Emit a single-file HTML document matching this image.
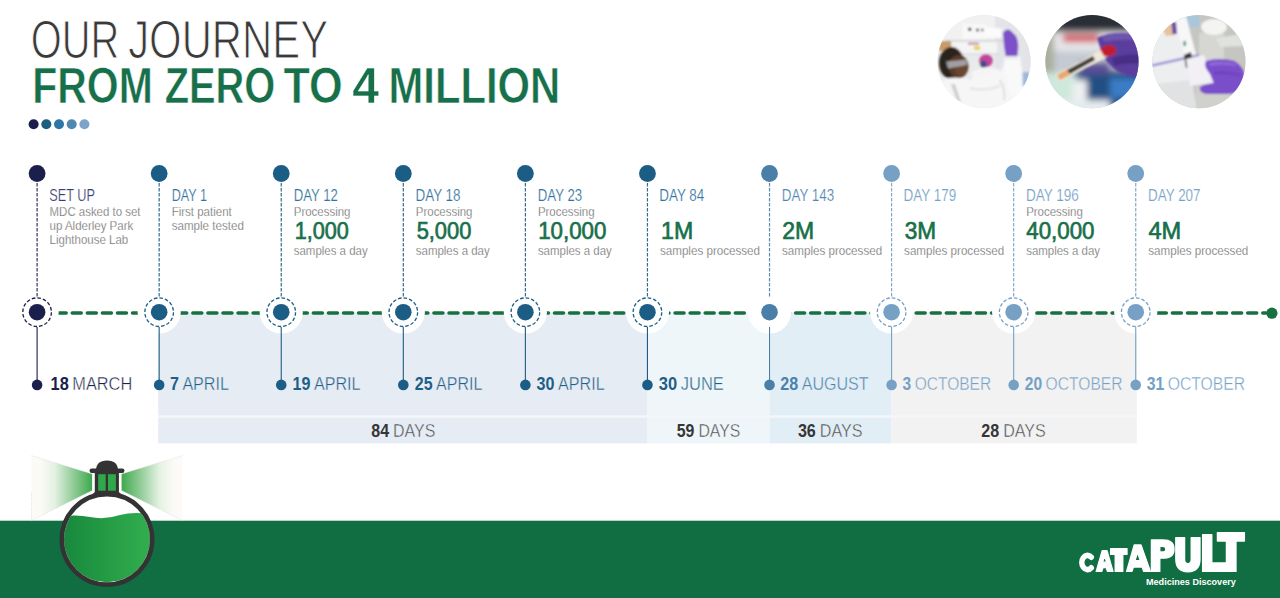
<!DOCTYPE html>
<html><head><meta charset="utf-8"><style>
html,body{margin:0;padding:0;background:#fff;width:1280px;height:598px;overflow:hidden}
svg{display:block;font-family:"Liberation Sans",sans-serif}
</style></head><body>
<svg width="1280" height="598" viewBox="0 0 1280 598">
<defs>
<linearGradient id="liq" x1="0" x2="1" y1="0" y2="0"><stop offset="0" stop-color="#17873c"/><stop offset="1" stop-color="#33b04f"/></linearGradient>
<linearGradient id="beamL" x1="1" x2="0" y1="0" y2="0"><stop offset="0" stop-color="#3ea84d"/><stop offset="0.3" stop-color="#8fcb95"/><stop offset="0.62" stop-color="#e4f1e3"/><stop offset="0.85" stop-color="#fbfaf6"/><stop offset="1" stop-color="#fdfbf8"/></linearGradient>
<linearGradient id="beamR" x1="0" x2="1" y1="0" y2="0"><stop offset="0" stop-color="#3ea84d"/><stop offset="0.3" stop-color="#8fcb95"/><stop offset="0.62" stop-color="#e4f1e3"/><stop offset="0.85" stop-color="#fbfaf6"/><stop offset="1" stop-color="#fdfbf8"/></linearGradient>
<clipPath id="flask"><circle cx="107" cy="539.3" r="43"/></clipPath>
<clipPath id="c1"><circle cx="984" cy="61.6" r="46.6"/></clipPath>
<clipPath id="c2"><circle cx="1092" cy="61.6" r="46.6"/></clipPath>
<clipPath id="c3"><circle cx="1199" cy="61.6" r="46.6"/></clipPath>
<filter id="bl1" x="-20%" y="-20%" width="140%" height="140%"><feGaussianBlur stdDeviation="1.2"/></filter>
<filter id="bl3" x="-20%" y="-20%" width="140%" height="140%"><feGaussianBlur stdDeviation="3"/></filter>
</defs>
<text x="30.70" y="57.90" font-size="53" font-weight="400" fill="#3a3a3a" textLength="88.61" lengthAdjust="spacingAndGlyphs" stroke="#fff" stroke-width="1.1">OUR</text>
<text x="128.20" y="57.90" font-size="53" font-weight="400" fill="#3a3a3a" textLength="199.86" lengthAdjust="spacingAndGlyphs" stroke="#fff" stroke-width="1.1">JOURNEY</text>
<text x="32.20" y="102.90" font-size="50.3" font-weight="700" fill="#17704a" textLength="120.59" lengthAdjust="spacingAndGlyphs" stroke="#fff" stroke-width="0.6">FROM</text>
<text x="164.70" y="102.90" font-size="50.3" font-weight="700" fill="#17704a" textLength="110.59" lengthAdjust="spacingAndGlyphs" stroke="#fff" stroke-width="0.6">ZERO</text>
<text x="283.45" y="102.90" font-size="50.3" font-weight="700" fill="#17704a" textLength="59.33" lengthAdjust="spacingAndGlyphs" stroke="#fff" stroke-width="0.6">TO</text>
<text x="352.20" y="102.90" font-size="50.3" font-weight="700" fill="#17704a" textLength="26.86" lengthAdjust="spacingAndGlyphs" stroke="#fff" stroke-width="0.6">4</text>
<text x="388.45" y="102.90" font-size="50.3" font-weight="700" fill="#17704a" textLength="171.87" lengthAdjust="spacingAndGlyphs" stroke="#fff" stroke-width="0.6">MILLION</text>
<circle cx="33.6" cy="124.2" r="5" fill="#1b1f4b"/>
<circle cx="46.3" cy="124.2" r="5" fill="#1b5e80"/>
<circle cx="59.0" cy="124.2" r="5" fill="#2a77a8"/>
<circle cx="71.7" cy="124.2" r="5" fill="#4f87b3"/>
<circle cx="84.4" cy="124.2" r="5" fill="#7ba4c8"/>
<rect x="158.2" y="312.5" width="489.3" height="130.9" fill="#e6ecf4"/>
<rect x="647.5" y="312.5" width="122" height="130.9" fill="#eef6f9"/>
<rect x="769.5" y="312.5" width="122" height="130.9" fill="#e2eef5"/>
<rect x="891.5" y="312.5" width="245.3" height="130.9" fill="#f2f2f2"/>
<rect x="158.2" y="415.3" width="978.6" height="2.4" fill="#f4f7f9"/>
<line x1="37" y1="313.1" x2="1266" y2="313.1" stroke="#17703f" stroke-width="3.5" stroke-dasharray="9 6.07" stroke-dashoffset="9.96" stroke-linecap="round"/>
<circle cx="1271.9" cy="313.2" r="5.6" fill="#17703f"/>
<circle cx="37.1" cy="312" r="21.6" fill="#fff"/>
<circle cx="159.17" cy="312" r="21.6" fill="#fff"/>
<circle cx="281.24" cy="312" r="21.6" fill="#fff"/>
<circle cx="403.31" cy="312" r="21.6" fill="#fff"/>
<circle cx="525.38" cy="312" r="21.6" fill="#fff"/>
<circle cx="647.45" cy="312" r="21.6" fill="#fff"/>
<circle cx="769.52" cy="312" r="21.6" fill="#fff"/>
<circle cx="891.59" cy="312" r="21.6" fill="#fff"/>
<circle cx="1013.66" cy="312" r="21.6" fill="#fff"/>
<circle cx="1135.73" cy="312" r="21.6" fill="#fff"/>
<circle cx="37.1" cy="173.5" r="8.4" fill="#1b1f4b"/>
<line x1="37.1" y1="183" x2="37.1" y2="296.5" stroke="#1b1f4b" stroke-width="1.2" stroke-dasharray="3.4 1.6" opacity="0.9"/>
<line x1="37.1" y1="327" x2="37.1" y2="384" stroke="#1b1f4b" stroke-width="1.1"/>
<circle cx="37.1" cy="384.9" r="5.3" fill="#1b1f4b"/>
<circle cx="37.1" cy="312" r="14.3" fill="none" stroke="#1b1f4b" stroke-width="1.3" stroke-dasharray="3.6 2" transform="translate(0 0.2)"/>
<circle cx="37.1" cy="312.2" r="8.3" fill="#1b1f4b"/>
<circle cx="159.17" cy="173.5" r="8.4" fill="#1c5d85"/>
<line x1="159.17" y1="183" x2="159.17" y2="296.5" stroke="#1c5d85" stroke-width="1.2" stroke-dasharray="3.4 1.6" opacity="0.9"/>
<line x1="159.17" y1="327" x2="159.17" y2="384" stroke="#1c5d85" stroke-width="1.1"/>
<circle cx="159.17" cy="384.9" r="5.3" fill="#1c5d85"/>
<circle cx="159.17" cy="312" r="14.3" fill="none" stroke="#1c5d85" stroke-width="1.3" stroke-dasharray="3.6 2" transform="translate(0 0.2)"/>
<circle cx="159.17" cy="312.2" r="8.3" fill="#1c5d85"/>
<circle cx="281.24" cy="173.5" r="8.4" fill="#1c5d85"/>
<line x1="281.24" y1="183" x2="281.24" y2="296.5" stroke="#1c5d85" stroke-width="1.2" stroke-dasharray="3.4 1.6" opacity="0.9"/>
<line x1="281.24" y1="327" x2="281.24" y2="384" stroke="#1c5d85" stroke-width="1.1"/>
<circle cx="281.24" cy="384.9" r="5.3" fill="#1c5d85"/>
<circle cx="281.24" cy="312" r="14.3" fill="none" stroke="#1c5d85" stroke-width="1.3" stroke-dasharray="3.6 2" transform="translate(0 0.2)"/>
<circle cx="281.24" cy="312.2" r="8.3" fill="#1c5d85"/>
<circle cx="403.31" cy="173.5" r="8.4" fill="#1c5d85"/>
<line x1="403.31" y1="183" x2="403.31" y2="296.5" stroke="#1c5d85" stroke-width="1.2" stroke-dasharray="3.4 1.6" opacity="0.9"/>
<line x1="403.31" y1="327" x2="403.31" y2="384" stroke="#1c5d85" stroke-width="1.1"/>
<circle cx="403.31" cy="384.9" r="5.3" fill="#1c5d85"/>
<circle cx="403.31" cy="312" r="14.3" fill="none" stroke="#1c5d85" stroke-width="1.3" stroke-dasharray="3.6 2" transform="translate(0 0.2)"/>
<circle cx="403.31" cy="312.2" r="8.3" fill="#1c5d85"/>
<circle cx="525.38" cy="173.5" r="8.4" fill="#1c5d85"/>
<line x1="525.38" y1="183" x2="525.38" y2="296.5" stroke="#1c5d85" stroke-width="1.2" stroke-dasharray="3.4 1.6" opacity="0.9"/>
<line x1="525.38" y1="327" x2="525.38" y2="384" stroke="#1c5d85" stroke-width="1.1"/>
<circle cx="525.38" cy="384.9" r="5.3" fill="#1c5d85"/>
<circle cx="525.38" cy="312" r="14.3" fill="none" stroke="#1c5d85" stroke-width="1.3" stroke-dasharray="3.6 2" transform="translate(0 0.2)"/>
<circle cx="525.38" cy="312.2" r="8.3" fill="#1c5d85"/>
<circle cx="647.45" cy="173.5" r="8.4" fill="#1c5d85"/>
<line x1="647.45" y1="183" x2="647.45" y2="296.5" stroke="#1c5d85" stroke-width="1.2" stroke-dasharray="3.4 1.6" opacity="0.9"/>
<line x1="647.45" y1="327" x2="647.45" y2="384" stroke="#1c5d85" stroke-width="1.1"/>
<circle cx="647.45" cy="384.9" r="5.3" fill="#1c5d85"/>
<circle cx="647.45" cy="312" r="14.3" fill="none" stroke="#1c5d85" stroke-width="1.3" stroke-dasharray="3.6 2" transform="translate(0 0.2)"/>
<circle cx="647.45" cy="312.2" r="8.3" fill="#1c5d85"/>
<circle cx="769.52" cy="173.5" r="8.4" fill="#4a7fa8"/>
<line x1="769.52" y1="183" x2="769.52" y2="296.5" stroke="#4a7fa8" stroke-width="1.2" stroke-dasharray="3.4 1.6" opacity="0.9"/>
<line x1="769.52" y1="327" x2="769.52" y2="384" stroke="#4a7fa8" stroke-width="1.1"/>
<circle cx="769.52" cy="384.9" r="5.3" fill="#4a7fa8"/>
<circle cx="769.52" cy="312.2" r="8.3" fill="#4a7fa8"/>
<circle cx="891.59" cy="173.5" r="8.4" fill="#76a0c4"/>
<line x1="891.59" y1="183" x2="891.59" y2="296.5" stroke="#76a0c4" stroke-width="1.2" stroke-dasharray="3.4 1.6" opacity="0.9"/>
<line x1="891.59" y1="327" x2="891.59" y2="384" stroke="#76a0c4" stroke-width="1.1"/>
<circle cx="891.59" cy="384.9" r="5.3" fill="#76a0c4"/>
<circle cx="891.59" cy="312" r="14.3" fill="none" stroke="#76a0c4" stroke-width="1.3" stroke-dasharray="3.6 2" transform="translate(0 0.2)"/>
<circle cx="891.59" cy="312.2" r="8.3" fill="#76a0c4"/>
<circle cx="1013.66" cy="173.5" r="8.4" fill="#76a0c4"/>
<line x1="1013.66" y1="183" x2="1013.66" y2="296.5" stroke="#76a0c4" stroke-width="1.2" stroke-dasharray="3.4 1.6" opacity="0.9"/>
<line x1="1013.66" y1="327" x2="1013.66" y2="384" stroke="#76a0c4" stroke-width="1.1"/>
<circle cx="1013.66" cy="384.9" r="5.3" fill="#76a0c4"/>
<circle cx="1013.66" cy="312" r="14.3" fill="none" stroke="#76a0c4" stroke-width="1.3" stroke-dasharray="3.6 2" transform="translate(0 0.2)"/>
<circle cx="1013.66" cy="312.2" r="8.3" fill="#76a0c4"/>
<circle cx="1135.73" cy="173.5" r="8.4" fill="#76a0c4"/>
<line x1="1135.73" y1="183" x2="1135.73" y2="296.5" stroke="#76a0c4" stroke-width="1.2" stroke-dasharray="3.4 1.6" opacity="0.9"/>
<line x1="1135.73" y1="327" x2="1135.73" y2="384" stroke="#76a0c4" stroke-width="1.1"/>
<circle cx="1135.73" cy="384.9" r="5.3" fill="#76a0c4"/>
<circle cx="1135.73" cy="312" r="14.3" fill="none" stroke="#76a0c4" stroke-width="1.3" stroke-dasharray="3.6 2" transform="translate(0 0.2)"/>
<circle cx="1135.73" cy="312.2" r="8.3" fill="#76a0c4"/>
<text x="49.30" y="200.80" font-size="16.2" font-weight="400" fill="#3a406f" textLength="45.70" lengthAdjust="spacingAndGlyphs" stroke="#fff" stroke-width="0.2">SET UP</text>
<text x="171.70" y="200.80" font-size="16.2" font-weight="400" fill="#3373a0" textLength="35.20" lengthAdjust="spacingAndGlyphs" stroke="#fff" stroke-width="0.2">DAY 1</text>
<text x="293.70" y="200.80" font-size="16.2" font-weight="400" fill="#3373a0" textLength="44.10" lengthAdjust="spacingAndGlyphs" stroke="#fff" stroke-width="0.2">DAY 12</text>
<text x="415.50" y="200.80" font-size="16.2" font-weight="400" fill="#3373a0" textLength="45.00" lengthAdjust="spacingAndGlyphs" stroke="#fff" stroke-width="0.2">DAY 18</text>
<text x="537.80" y="200.80" font-size="16.2" font-weight="400" fill="#3373a0" textLength="44.40" lengthAdjust="spacingAndGlyphs" stroke="#fff" stroke-width="0.2">DAY 23</text>
<text x="659.30" y="200.80" font-size="16.2" font-weight="400" fill="#3373a0" textLength="45.00" lengthAdjust="spacingAndGlyphs" stroke="#fff" stroke-width="0.2">DAY 84</text>
<text x="781.80" y="200.80" font-size="16.2" font-weight="400" fill="#4f85b0" textLength="52.30" lengthAdjust="spacingAndGlyphs" stroke="#fff" stroke-width="0.2">DAY 143</text>
<text x="903.60" y="200.80" font-size="16.2" font-weight="400" fill="#76a1c7" textLength="52.60" lengthAdjust="spacingAndGlyphs" stroke="#fff" stroke-width="0.2">DAY 179</text>
<text x="1025.90" y="200.80" font-size="16.2" font-weight="400" fill="#76a1c7" textLength="52.90" lengthAdjust="spacingAndGlyphs" stroke="#fff" stroke-width="0.2">DAY 196</text>
<text x="1148.10" y="200.80" font-size="16.2" font-weight="400" fill="#76a1c7" textLength="52.40" lengthAdjust="spacingAndGlyphs" stroke="#fff" stroke-width="0.2">DAY 207</text>
<text x="49.60" y="215.60" font-size="12.2" font-weight="400" fill="#666666" textLength="90.90" lengthAdjust="spacingAndGlyphs" stroke="#fff" stroke-width="0.25">MDC asked to set</text>
<text x="49.60" y="229.80" font-size="12.2" font-weight="400" fill="#666666" textLength="83.65" lengthAdjust="spacingAndGlyphs" stroke="#fff" stroke-width="0.25">up Alderley Park</text>
<text x="49.60" y="243.80" font-size="12.2" font-weight="400" fill="#666666" textLength="78.58" lengthAdjust="spacingAndGlyphs" stroke="#fff" stroke-width="0.25">Lighthouse Lab</text>
<text x="171.67" y="215.60" font-size="12.2" font-weight="400" fill="#666666" textLength="60.07" lengthAdjust="spacingAndGlyphs" stroke="#fff" stroke-width="0.25">First patient</text>
<text x="171.67" y="229.80" font-size="12.2" font-weight="400" fill="#666666" textLength="72.20" lengthAdjust="spacingAndGlyphs" stroke="#fff" stroke-width="0.25">sample tested</text>
<text x="293.74" y="215.60" font-size="12.2" font-weight="400" fill="#666666" textLength="56.70" lengthAdjust="spacingAndGlyphs" stroke="#fff" stroke-width="0.25">Processing</text>
<text x="293.74" y="254.50" font-size="12.2" font-weight="400" fill="#666666" textLength="73.90" lengthAdjust="spacingAndGlyphs" stroke="#fff" stroke-width="0.25">samples a day</text>
<text x="294.75" y="239.30" font-size="24.6" font-weight="400" fill="#17704a" textLength="54.11" lengthAdjust="spacingAndGlyphs" stroke="#17704a" stroke-width="0.7">1,000</text>
<text x="415.81" y="215.60" font-size="12.2" font-weight="400" fill="#666666" textLength="56.70" lengthAdjust="spacingAndGlyphs" stroke="#fff" stroke-width="0.25">Processing</text>
<text x="415.81" y="254.50" font-size="12.2" font-weight="400" fill="#666666" textLength="73.90" lengthAdjust="spacingAndGlyphs" stroke="#fff" stroke-width="0.25">samples a day</text>
<text x="416.65" y="239.30" font-size="24.6" font-weight="400" fill="#17704a" textLength="54.71" lengthAdjust="spacingAndGlyphs" stroke="#17704a" stroke-width="0.7">5,000</text>
<text x="537.88" y="215.60" font-size="12.2" font-weight="400" fill="#666666" textLength="56.70" lengthAdjust="spacingAndGlyphs" stroke="#fff" stroke-width="0.25">Processing</text>
<text x="537.88" y="254.50" font-size="12.2" font-weight="400" fill="#666666" textLength="73.90" lengthAdjust="spacingAndGlyphs" stroke="#fff" stroke-width="0.25">samples a day</text>
<text x="538.15" y="239.30" font-size="24.6" font-weight="400" fill="#17704a" textLength="68.19" lengthAdjust="spacingAndGlyphs" stroke="#17704a" stroke-width="0.7">10,000</text>
<text x="1026.16" y="215.60" font-size="12.2" font-weight="400" fill="#666666" textLength="56.70" lengthAdjust="spacingAndGlyphs" stroke="#fff" stroke-width="0.25">Processing</text>
<text x="1026.16" y="254.50" font-size="12.2" font-weight="400" fill="#666666" textLength="73.90" lengthAdjust="spacingAndGlyphs" stroke="#fff" stroke-width="0.25">samples a day</text>
<text x="1026.25" y="239.30" font-size="24.6" font-weight="400" fill="#17704a" textLength="68.19" lengthAdjust="spacingAndGlyphs" stroke="#17704a" stroke-width="0.7">40,000</text>
<text x="659.95" y="254.50" font-size="12.2" font-weight="400" fill="#666666" textLength="100.10" lengthAdjust="spacingAndGlyphs" stroke="#fff" stroke-width="0.25">samples processed</text>
<text x="661.05" y="239.30" font-size="24.6" font-weight="400" fill="#17704a" textLength="32.10" lengthAdjust="spacingAndGlyphs" stroke="#17704a" stroke-width="0.7">1M</text>
<text x="782.02" y="254.50" font-size="12.2" font-weight="400" fill="#666666" textLength="100.10" lengthAdjust="spacingAndGlyphs" stroke="#fff" stroke-width="0.25">samples processed</text>
<text x="782.15" y="239.30" font-size="24.6" font-weight="400" fill="#17704a" textLength="31.90" lengthAdjust="spacingAndGlyphs" stroke="#17704a" stroke-width="0.7">2M</text>
<text x="904.09" y="254.50" font-size="12.2" font-weight="400" fill="#666666" textLength="100.10" lengthAdjust="spacingAndGlyphs" stroke="#fff" stroke-width="0.25">samples processed</text>
<text x="904.75" y="239.30" font-size="24.6" font-weight="400" fill="#17704a" textLength="31.40" lengthAdjust="spacingAndGlyphs" stroke="#17704a" stroke-width="0.7">3M</text>
<text x="1148.23" y="254.50" font-size="12.2" font-weight="400" fill="#666666" textLength="100.10" lengthAdjust="spacingAndGlyphs" stroke="#fff" stroke-width="0.25">samples processed</text>
<text x="1148.45" y="239.30" font-size="24.6" font-weight="400" fill="#17704a" textLength="32.80" lengthAdjust="spacingAndGlyphs" stroke="#17704a" stroke-width="0.7">4M</text>
<text x="50.60" y="390.30" font-size="18.6" font-weight="700" fill="#1b1f4b" textLength="18.16" lengthAdjust="spacingAndGlyphs" >18</text>
<text x="72.35" y="390.30" font-size="18.6" font-weight="400" fill="#1b1f4b" textLength="59.85" lengthAdjust="spacingAndGlyphs"  stroke="#ffffff" stroke-width="0.4">MARCH</text>
<text x="169.90" y="390.30" font-size="18.6" font-weight="700" fill="#1f5f87" textLength="8.95" lengthAdjust="spacingAndGlyphs" >7</text>
<text x="182.39" y="390.30" font-size="18.6" font-weight="400" fill="#1f5f87" textLength="46.51" lengthAdjust="spacingAndGlyphs"  stroke="#e6ecf4" stroke-width="0.4">APRIL</text>
<text x="292.50" y="390.30" font-size="18.6" font-weight="700" fill="#1f5f87" textLength="17.91" lengthAdjust="spacingAndGlyphs" >19</text>
<text x="313.96" y="390.30" font-size="18.6" font-weight="400" fill="#1f5f87" textLength="46.55" lengthAdjust="spacingAndGlyphs"  stroke="#e6ecf4" stroke-width="0.4">APRIL</text>
<text x="414.80" y="390.30" font-size="18.6" font-weight="700" fill="#1f5f87" textLength="17.78" lengthAdjust="spacingAndGlyphs" >25</text>
<text x="436.10" y="390.30" font-size="18.6" font-weight="400" fill="#1f5f87" textLength="46.20" lengthAdjust="spacingAndGlyphs"  stroke="#e6ecf4" stroke-width="0.4">APRIL</text>
<text x="536.60" y="390.30" font-size="18.6" font-weight="700" fill="#1f5f87" textLength="17.91" lengthAdjust="spacingAndGlyphs" >30</text>
<text x="558.06" y="390.30" font-size="18.6" font-weight="400" fill="#1f5f87" textLength="46.55" lengthAdjust="spacingAndGlyphs"  stroke="#e6ecf4" stroke-width="0.4">APRIL</text>
<text x="658.80" y="390.30" font-size="18.6" font-weight="700" fill="#1f5f87" textLength="18.33" lengthAdjust="spacingAndGlyphs" >30</text>
<text x="680.76" y="390.30" font-size="18.6" font-weight="400" fill="#1f5f87" textLength="43.04" lengthAdjust="spacingAndGlyphs"  stroke="#eef6f9" stroke-width="0.4">JUNE</text>
<text x="780.30" y="390.30" font-size="18.6" font-weight="700" fill="#4a82ad" textLength="17.86" lengthAdjust="spacingAndGlyphs" >28</text>
<text x="801.69" y="390.30" font-size="18.6" font-weight="400" fill="#4a82ad" textLength="66.91" lengthAdjust="spacingAndGlyphs"  stroke="#e2eef5" stroke-width="0.4">AUGUST</text>
<text x="902.60" y="390.30" font-size="18.6" font-weight="700" fill="#73a0c6" textLength="8.64" lengthAdjust="spacingAndGlyphs" >3</text>
<text x="914.66" y="390.30" font-size="18.6" font-weight="400" fill="#73a0c6" textLength="76.54" lengthAdjust="spacingAndGlyphs"  stroke="#f2f2f2" stroke-width="0.4">OCTOBER</text>
<text x="1024.80" y="390.30" font-size="18.6" font-weight="700" fill="#73a0c6" textLength="17.36" lengthAdjust="spacingAndGlyphs" >20</text>
<text x="1045.60" y="390.30" font-size="18.6" font-weight="400" fill="#73a0c6" textLength="76.90" lengthAdjust="spacingAndGlyphs"  stroke="#f2f2f2" stroke-width="0.4">OCTOBER</text>
<text x="1146.70" y="390.30" font-size="18.6" font-weight="700" fill="#73a0c6" textLength="17.50" lengthAdjust="spacingAndGlyphs" >31</text>
<text x="1167.67" y="390.30" font-size="18.6" font-weight="400" fill="#73a0c6" textLength="77.53" lengthAdjust="spacingAndGlyphs"  stroke="#ffffff" stroke-width="0.4">OCTOBER</text>
<text x="371.30" y="437.30" font-size="18.6" font-weight="700" fill="#363636" textLength="17.77" lengthAdjust="spacingAndGlyphs" >84</text>
<text x="393.07" y="437.30" font-size="18.6" font-weight="400" fill="#4a4a4a" textLength="42.33" lengthAdjust="spacingAndGlyphs"  stroke="#e6ecf4" stroke-width="0.45">DAYS</text>
<text x="676.80" y="437.30" font-size="18.6" font-weight="700" fill="#363636" textLength="17.64" lengthAdjust="spacingAndGlyphs" >59</text>
<text x="698.40" y="437.30" font-size="18.6" font-weight="400" fill="#4a4a4a" textLength="42.00" lengthAdjust="spacingAndGlyphs"  stroke="#eef6f9" stroke-width="0.45">DAYS</text>
<text x="797.90" y="437.30" font-size="18.6" font-weight="700" fill="#363636" textLength="17.94" lengthAdjust="spacingAndGlyphs" >36</text>
<text x="819.87" y="437.30" font-size="18.6" font-weight="400" fill="#4a4a4a" textLength="42.73" lengthAdjust="spacingAndGlyphs"  stroke="#e2eef5" stroke-width="0.45">DAYS</text>
<text x="981.30" y="437.30" font-size="18.6" font-weight="700" fill="#363636" textLength="17.89" lengthAdjust="spacingAndGlyphs" >28</text>
<text x="1003.21" y="437.30" font-size="18.6" font-weight="400" fill="#4a4a4a" textLength="42.59" lengthAdjust="spacingAndGlyphs"  stroke="#f2f2f2" stroke-width="0.45">DAYS</text>
<rect x="0" y="520.7" width="1280" height="78" fill="#116e43"/>
<g>
<path d="M92.1,474 L31.5,455.6 L31.5,520.5 L92.1,490.6 Z" fill="url(#beamL)"/>
<path d="M31.5,455.6 L92.1,474 M31.5,520.5 L92.1,490.6 M31.5,492 V520.5" stroke="#dcdcdc" stroke-width="0.6" fill="none" stroke-dasharray="1.5 1"/>
<path d="M121.6,474 L182.5,455.6 L182.5,520.5 L121.6,490.6 Z" fill="url(#beamR)"/>
<path d="M182.5,455.6 L121.6,474 M182.5,520.5 L121.6,490.6" stroke="#dcdcdc" stroke-width="0.6" fill="none" stroke-dasharray="1.5 1"/>
<circle cx="107" cy="539.3" r="45.2" fill="#fff"/>
<path d="M60,517 Q75,514 90,517 Q105,520 120,515 Q135,511 155,515 L155,600 L60,600 Z" fill="url(#liq)" clip-path="url(#flask)"/>
<circle cx="107" cy="539.3" r="45.2" fill="none" stroke="#333" stroke-width="4.6"/>
<path d="M94.8,470 H118.9 V492 L123,496 L91,496 L94.8,492 Z" fill="#333"/>
<rect x="98.2" y="474.2" width="7.5" height="16.5" fill="#2fa84b"/>
<rect x="108" y="474.2" width="7.9" height="16.5" fill="#2fa84b"/>
<path d="M96,470.5 Q96,460.5 107,460.5 Q118,460.5 118,470.5 Z" fill="#333"/>
<rect x="89.5" y="468.5" width="35" height="4.6" rx="2.3" fill="#333"/>
</g>
<g fill="#fff" stroke="#fff" stroke-width="1.3" stroke-linejoin="round">
<path d="M1091.2,557.2 A5.6,7.1 0 1 0 1091.2,567.8" fill="none" stroke-width="5.6" stroke-linecap="round"/>
<path fill-rule="evenodd" d="M1096.2,571.4 L1102.2,550.6 L1107,550.6 L1113,571.4 L1107.4,571.4 L1106.2,567.6 L1103,567.6 L1101.8,571.4 Z M1104.6,555.8 L1106.6,562.2 L1102.6,562.2 Z"/>
<rect x="1110.6" y="548.6" width="16.4" height="5.8"/>
<rect x="1115.2" y="548.6" width="7.6" height="22.8"/>
<path fill-rule="evenodd" d="M1126.6,571.4 L1134.2,545 L1141,545 L1150.4,571.4 L1143.6,571.4 L1142.2,567 L1133.4,567 L1132,571.4 Z M1137.6,552.4 L1140.2,560.6 L1135,560.6 Z"/>
<path fill-rule="evenodd" d="M1151.4,540 H1163 Q1174,540 1174,549.2 Q1174,558.2 1163,558.2 H1159.8 V571.4 H1151.4 Z M1159.8,546.4 H1162.4 Q1165.8,546.4 1165.8,549.2 Q1165.8,552 1162.4,552 H1159.8 Z"/>
<path d="M1175.8,537.6 H1184.6 V559.6 Q1184.6,563.6 1187.9,563.6 Q1191.2,563.6 1191.2,559.6 V537.6 H1200 V559 Q1200,571.8 1187.9,571.8 Q1175.8,571.8 1175.8,559 Z"/>
<path d="M1202.6,534.6 H1211.8 V563 H1226 V571.4 H1202.6 Z"/>
<rect x="1217.4" y="532.6" width="27" height="8.4"/>
<rect x="1226.4" y="532.6" width="9.6" height="38.8"/>
</g>
<text x="1146" y="584.8" font-size="9" font-weight="700" fill="#fff" textLength="89.8" lengthAdjust="spacingAndGlyphs">Medicines Discovery</text>
<g clip-path="url(#c1)">
<rect x="930" y="10" width="110" height="105" fill="#e9eaec"/>
<g filter="url(#bl1)">
<rect x="935" y="10" width="100" height="31" fill="#f1f1f2"/>
<rect x="995" y="10" width="40" height="70" fill="#e3e4e8"/>
<rect x="962" y="24" width="24" height="15" fill="#f8f8f8"/>
<circle cx="969.7" cy="29.3" r="1.7" fill="#2a2a2a"/><circle cx="977.5" cy="30" r="1.5" fill="#333"/><circle cx="982.3" cy="30" r="1.3" fill="#444"/>
<path d="M984,27 L1002,28.5 L1001,38 L984,37 Z" fill="#fbfbfb"/>
<rect x="945" y="40" width="60" height="1.6" fill="#d2d4d6"/>
<rect x="939" y="41" width="12" height="10" fill="#c79c68"/>
<rect x="952" y="42" width="45" height="12" fill="#f4f4f5"/>
<rect x="968" y="42.8" width="11" height="1.8" fill="#c8798e"/>
<rect x="974" y="46" width="6" height="4" fill="#e6d24a"/>
<rect x="950" y="53.5" width="50" height="1.5" fill="#d9dadd"/>
<ellipse cx="986" cy="60.5" rx="6.8" ry="6.5" fill="#c2449c"/>
<ellipse cx="983.5" cy="64" rx="3.2" ry="3.5" fill="#3e4d86"/>
<path d="M972,72 Q988,64 1004,72 L1006,100 L972,100 Z" fill="#f5f5f6"/>
<ellipse cx="951.5" cy="63" rx="12.5" ry="16" fill="#2b221f"/>
<ellipse cx="958.5" cy="66.5" rx="10" ry="11.5" fill="#5a3a2a"/>
<ellipse cx="961" cy="70" rx="6" ry="6" fill="#6b4632"/>
<path d="M946,61.5 L966.5,59.5 L967,65 L948,68.5 Z" fill="#b9c2ca" opacity="0.75"/>
<path d="M938,84 Q946,76 960,78 L972,80 L1000,74 L1006,58 L1020,56 L1024,80 L1030,115 L935,115 Z" fill="#f6f6f7"/>
<path d="M1004,58 L1019,57 L1024,92 L1010,96 Z" fill="#f9f9fa"/>
<path d="M1000,80 Q1006,90 1004,100" stroke="#d9dadd" stroke-width="1.6" fill="none"/>
<path d="M951,84 L958,104 L961,103 L955,84 Z" fill="#cdcdd0"/>
<path d="M970,88 Q985,92 1000,86" stroke="#dcdde0" stroke-width="1.5" fill="none"/>
<path d="M1003,33 Q1006,28 1010,30 L1016,36 Q1019,42 1018,50 L1017,58 L1006,58 L1004,46 Z" fill="#7d50c8"/>
<rect x="1005" y="56" width="13" height="3" fill="#e8e8ea"/>
<rect x="1022.5" y="72" width="7" height="14" fill="#a0b8dc"/>
</g>
</g>
<g clip-path="url(#c2)">
<rect x="1040" y="10" width="110" height="105" fill="#c3c8d0"/>
<g filter="url(#bl3)">
<rect x="1040" y="6" width="110" height="26" fill="#2a2e35"/>
<rect x="1040" y="32" width="110" height="19" fill="#e6e7ea"/>
<rect x="1063" y="34.5" width="36" height="7.5" fill="#d2434a"/>
<rect x="1040" y="51" width="110" height="22" fill="#c5cad3"/>
<rect x="1040" y="30" width="14" height="45" fill="#a9ae9e"/>
<rect x="1070" y="70" width="80" height="45" fill="#234f82"/>
<rect x="1110" y="78" width="35" height="20" fill="#3a7cc4"/>
<rect x="1080" y="62" width="30" height="12" fill="#5a4f96"/>
<rect x="1040" y="73" width="36" height="42" fill="#cfe8dc"/>
<rect x="1073" y="80" width="14" height="22" fill="#eef0f2"/>
<rect x="1060" y="100" width="50" height="15" fill="#e5ecef"/>
</g>
<g filter="url(#bl1)">
<path d="M1097,38 Q1108,32 1128,33 Q1142,36 1145,45 L1145,78 Q1130,78 1118,72 Q1104,62 1101,50 Z" fill="#5a3d9c"/>
<path d="M1102,36 Q1118,31 1136,35 L1136,40 Q1118,39 1104,42 Z" fill="#6e54ae"/>
<path d="M1112,58 Q1128,52 1146,56 L1146,64 Q1130,62 1114,66 Z" fill="#4a2f86"/>
<path d="M1055,75 L1104,48 L1109,56 L1061,81 Z" fill="#f0e9d8"/>
<path d="M1057,75 L1067,69.5 L1070,75 L1060,80 Z" fill="#e9a86a"/>
<path d="M1067,70 L1093,56 L1095,60 L1070,74 Z" fill="#3a3a3a"/>
<path d="M1100,49.5 Q1106,43 1114,46 L1117,52 Q1110,58 1104,56 Z" fill="#c21f30"/>
</g>
</g>
<g clip-path="url(#c3)">
<rect x="1145" y="10" width="110" height="105" fill="#c5c6c2"/>
<g filter="url(#bl1)">
<rect x="1199" y="33" width="25" height="35" fill="#d6d7d3"/>
<ellipse cx="1214" cy="27" rx="13" ry="8" fill="#f4f4f2"/>
<rect x="1180" y="15" width="19" height="12" fill="#a9c6da"/>
<path d="M1216,38 L1242,34 L1244,46 L1220,47 Z" fill="#dfe2de"/>
<path d="M1145,10 L1178,10 L1190,60 L1195,115 L1145,115 Z" fill="#eceef0"/>
<path d="M1145,85 L1192,80 L1198,115 L1145,115 Z" fill="#e0e2e4"/>
<path d="M1174,20 L1186,16 L1197,58 L1187,62 Z" fill="#f7f7f7"/>
<rect x="1183.5" y="41" width="2.5" height="5" fill="#3a8f6a"/>
<path d="M1160,24 Q1168,20 1174,24 L1175,35 L1166,36 Z" fill="#e6c29c"/>
<path d="M1171.5,22 L1176,22 L1177,34 L1172.5,34 Z" fill="#6a4aa4"/>
<path d="M1145,66 L1199,54 L1199,56.2 L1145,68.2 Z" fill="#9183cf"/>
<path d="M1184,55 L1191,52 L1193,66 L1186,68 Z" fill="#2f2f2f"/>
<path d="M1186,59 L1204,55 L1213,83 L1190,86 Z" fill="#f2f0f5"/>
<path d="M1196,86 L1230,86 L1232,115 L1196,115 Z" fill="#d0d0cc"/>
<path d="M1206,61 Q1218,57 1234,61 Q1246,68 1245,82 Q1243,92 1228,94 L1206,94 Q1198,92 1200,87 Q1204,84 1214,83 L1210,74 Q1203,66 1206,61 Z" fill="#7a4ecb"/>
<path d="M1209,63 Q1222,60 1236,64 L1236,66 Q1222,63 1210,66 Z" fill="#9573d8" opacity="0.8"/>
<path d="M1214,72 Q1226,70 1240,74 L1240,76 Q1226,73 1215,75 Z" fill="#6a40b8" opacity="0.8"/>
</g>
</g>
</svg>
</body></html>
